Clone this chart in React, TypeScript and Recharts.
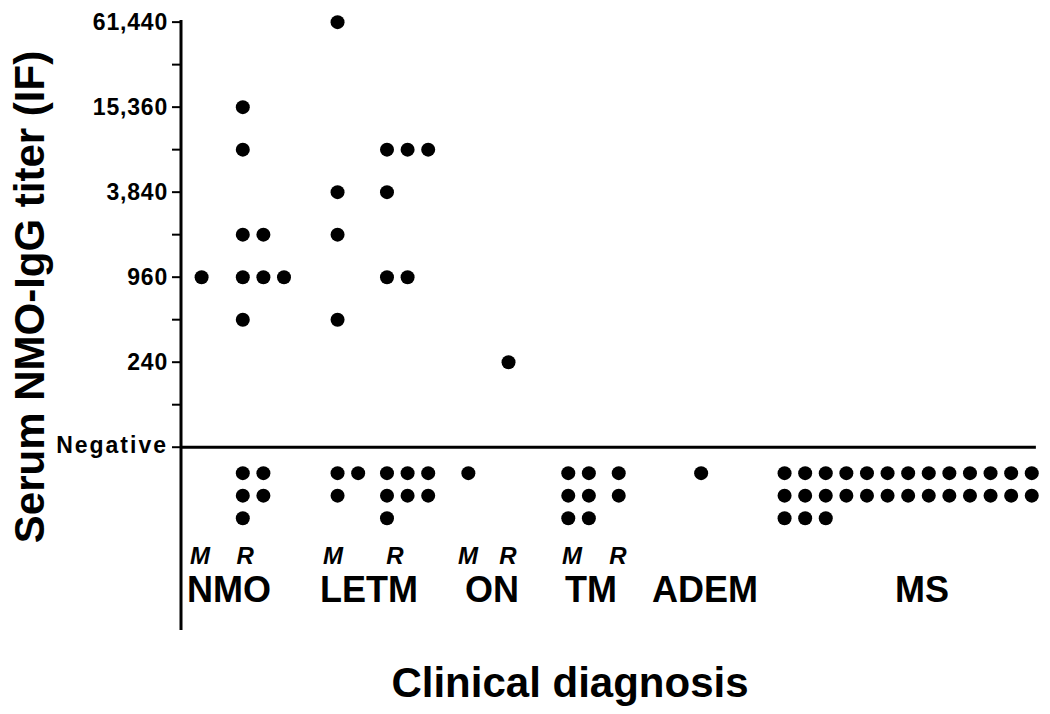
import React from 'react';
import { ScatterChart, Scatter, XAxis, YAxis, ReferenceLine, ReferenceDot } from 'recharts';

const FONT = "Arial, 'Liberation Sans', Helvetica, sans-serif";

// diagnosis groups along the bottom
const categories = ['NMO', 'LETM', 'ON', 'TM', 'ADEM', 'MS'];
const categoryPos = [2.33, 9.13, 15.1, 19.9, 25.44, 35.97];

// M = monophasic, R = relapsing
const subLabels = ['M', 'R', 'M', 'R', 'M', 'R', 'M', 'R'];
const subLabelPos = [0.92, 3.11, 7.38, 10.39, 13.93, 15.87, 18.98, 21.21];
const SUB_LABEL_LEVEL = -2.74;

// y axis: log2 steps above the "negative" cut-off (60)
const tickLevels = [0, 1, 2, 3, 4, 5, 6, 7, 8, 9, 10];
const tickLabels = ['Negative', '', '240', '', '960', '', '3,840', '', '15,360', '', '61,440'];

// serum titers (IF), one array per column
const nmoM = [960];
const nmoR = [15360, 7680, 1920, 1920, 960, 960, 960, 480];
const letmM = [61440, 3840, 1920, 480];
const letmR = [7680, 7680, 7680, 3840, 960, 960];
const onM: number[] = [];
const onR = [240];
const tmM: number[] = [];
const tmR: number[] = [];
const adem: number[] = [];
const ms: number[] = [];

// seronegative patients per column
const negatives = [0, 5, 3, 7, 1, 0, 6, 2, 1, 29];

const columnTiters = [nmoM, nmoR, letmM, letmR, onM, onR, tmM, tmR, adem, ms];
// layout of columns (x units = one dot width)
const columnBase = [1.0, 3.0, 7.6, 10.0, 13.95, 15.9, 18.8, 21.25, 25.25, 29.3];
const negRowWidth = [1, 2, 2, 3, 1, 1, 2, 1, 1, 13];
const NEG_TOP = -0.61;
const NEG_STEP = 0.53;

const points: { x: number; y: number }[] = [];
columnTiters.forEach((titers, c) => {
  const seen: Record<number, number> = {};
  titers.forEach((t) => {
    const k = seen[t] ?? 0;
    seen[t] = k + 1;
    points.push({ x: columnBase[c] + k, y: Math.log2(t / 60) });
  });
  for (let i = 0; i < negatives[c]; i++) {
    const w = negRowWidth[c];
    points.push({
      x: columnBase[c] + (i % w),
      y: NEG_TOP - NEG_STEP * Math.floor(i / w),
    });
  }
});

const Dot = (props: any) => <circle cx={props.cx} cy={props.cy} r={7} fill="#000" />;

const YTick = (props: any) => {
  const { x, y, payload } = props;
  const label = tickLabels[tickLevels.indexOf(payload.value)];
  if (!label) return null;
  const neg = label === 'Negative';
  return (
    <text
      x={x}
      y={y}
      dy={neg ? 6 : 8}
      textAnchor="end"
      fontFamily={FONT}
      fontWeight="bold"
      fontSize={23}
      letterSpacing={neg ? 2 : 0.8}
      fill="#000"
    >
      {label}
    </text>
  );
};

const CatTick = (props: any) => {
  const { x, y, payload } = props;
  const label = categories[categoryPos.indexOf(payload.value)];
  return (
    <text x={x} y={y - 28} textAnchor="middle" fontFamily={FONT} fontWeight="bold" fontSize={36} fill="#000">
      {label}
    </text>
  );
};

const subLabelShape = (label: string) => (props: any) => (
  <text
    x={props.cx}
    y={props.cy}
    textAnchor="middle"
    fontFamily={FONT}
    fontWeight="bold"
    fontStyle="italic"
    fontSize={24}
    fill="#000"
  >
    {label}
  </text>
);

const XTitle = () => (
  <text x={570} y={697} textAnchor="middle" fontFamily={FONT} fontWeight="bold" fontSize={42} fill="#000">
    Clinical diagnosis
  </text>
);

const YTitle = () => (
  <text
    x={44}
    y={297}
    transform="rotate(-90 44 297)"
    textAnchor="middle"
    fontFamily={FONT}
    fontWeight="bold"
    fontSize={42}
    fill="#000"
  >
    Serum NMO-IgG titer (IF)
  </text>
);

export default function App() {
  return (
    <div style={{ width: 1050, height: 714, background: '#fff' }}>
      <style>{'body{margin:0}'}</style>
      <ScatterChart width={1050} height={714} margin={{ top: 20, right: 10, bottom: 0, left: 0 }}>
        <XAxis
          type="number"
          dataKey="x"
          domain={[0, 41.7]}
          ticks={categoryPos}
          interval={0}
          axisLine={false}
          tickLine={false}
          tickSize={0}
          tickMargin={0}
          height={84}
          tick={<CatTick />}
          label={<XTitle />}
        />
        <YAxis
          type="number"
          dataKey="y"
          domain={[-4.3, 10.05]}
          ticks={tickLevels}
          interval={0}
          width={181}
          axisLine={{ stroke: '#000', strokeWidth: 3 }}
          tickLine={{ stroke: '#000', strokeWidth: 2 }}
          tickSize={9}
          tickMargin={4}
          tick={<YTick />}
          label={<YTitle />}
        />
        <ReferenceLine
          segment={[
            { x: 0, y: 0 },
            { x: 41.5, y: 0 },
          ]}
          stroke="#000"
          strokeWidth={3}
        />
        {subLabels.map((s, i) => (
          <ReferenceDot
            key={`sub-${i}`}
            x={subLabelPos[i]}
            y={SUB_LABEL_LEVEL}
            r={0}
            shape={subLabelShape(s)}
          />
        ))}
        <Scatter data={points} shape={<Dot />} isAnimationActive={false} />
      </ScatterChart>
    </div>
  );
}
